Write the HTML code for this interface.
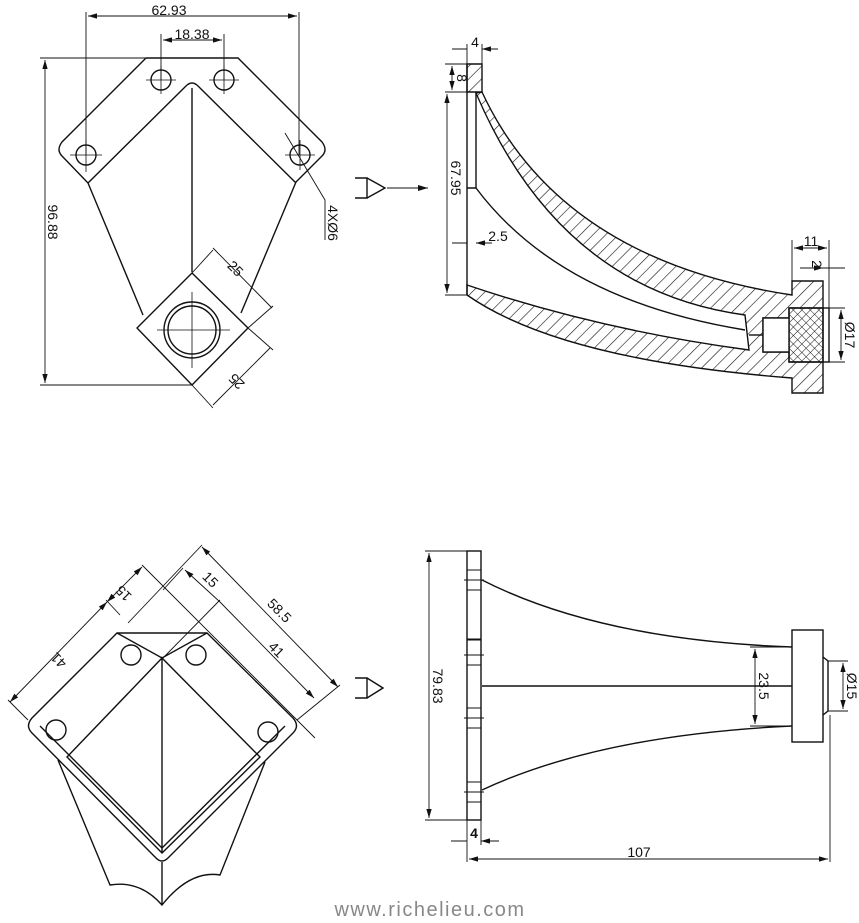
<!DOCTYPE html>
<html><head><meta charset="utf-8"><style>
html,body{margin:0;padding:0;background:#fff;width:859px;height:923px;overflow:hidden}
svg{display:block}
text{font-family:"Liberation Sans",sans-serif;font-size:14px;fill:#111;stroke:none}
</style></head><body>
<svg width="859" height="923" viewBox="0 0 859 923" xmlns="http://www.w3.org/2000/svg">
<defs>
<pattern id="h" width="9" height="9" patternUnits="userSpaceOnUse" patternTransform="rotate(45)"><line x1="0" y1="0" x2="0" y2="9" stroke="#111" stroke-width="1.2"/></pattern>
<pattern id="x" width="6" height="6" patternUnits="userSpaceOnUse" patternTransform="rotate(45)"><path d="M0 0V6M0 0H6" stroke="#111" stroke-width="1"/></pattern>
<marker id="a" viewBox="0 0 10 6" refX="10" refY="3" markerWidth="10" markerHeight="6" orient="auto-start-reverse"><path d="M0 0L10 3L0 6z" fill="#111" stroke="none"/></marker>
</defs>
<g fill="none" stroke="#111" stroke-width="1.4">
<!-- TOP LEFT VIEW -->
<path d="M146 58H238L322 142Q328 150 322 156L296 182L241 313"/>
<path d="M146 58L62 142Q56 150 62 156L88 183L143 315"/>
<path d="M88 183L186 86Q192 80 198 86L296 183"/>
<path d="M192 88V272"/>
<path d="M192 273L248 328L192 385L137 328Z" stroke-linejoin="round"/>
<circle cx="192" cy="330" r="28"/><circle cx="192" cy="330" r="24"/>
<circle cx="161" cy="80" r="10"/><circle cx="224" cy="80" r="10"/><circle cx="86" cy="155" r="10"/><circle cx="300" cy="155" r="10"/>
<g stroke-width="0.8"><path d="M157 330H230M192 292V368M146 80H176M161 66V94M209 80H239M224 66V94M70 155H102M86 140V172M285 155H315M300 140V170"/></g>
<g stroke-width="0.9">
<path d="M86 12V155M299 12V155"/>
<path d="M88 16H297" marker-start="url(#a)" marker-end="url(#a)"/>
<path d="M161 34V80M224 34V80"/><path d="M163 40H222" marker-start="url(#a)" marker-end="url(#a)"/>
<path d="M40 58H146M40 385H192"/><path d="M45 60V383" marker-start="url(#a)" marker-end="url(#a)"/>
<path d="M192 273L213 250M248 328L273 306M248 328L273 350M192 385L213 408"/>
<path d="M213 248L272 308" /><path d="M270 348L213 405"/>
<path d="M285 133L325 200V240"/>
</g>
<text x="169" y="15" text-anchor="middle">62.93</text>
<text x="192" y="39" text-anchor="middle" font-size="13">18.38</text>
<text transform="translate(48 222) rotate(90)" text-anchor="middle">96.88</text>
<text transform="translate(232 272) rotate(45)" text-anchor="middle" font-size="13">25</text>
<text transform="translate(240 378) rotate(-135)" text-anchor="middle" font-size="13">25</text>
<text transform="translate(328 223) rotate(90)" text-anchor="middle" font-size="13">4XØ6</text>
<path d="M355 178H367V198H355M367 178L385 188L367 198"/>
<path d="M387 188H428" stroke-width="1" marker-end="url(#a)"/>

<!-- TOP RIGHT SECTION -->
<path d="M467 64H482V92L476 92H467Z" fill="url(#h)"/>
<path d="M467 64V295M476 92V188M467 188H476"/>
<path d="M482 92Q560 260 792 295L792 281H823V308H789V318H763V352H789V362H823V393H792V378Q560 360 467 295V285Q600 330 749 350L745 315Q560 290 476 93Z" fill="url(#h)"/>
<path d="M476 188Q560 300 745 330"/>
<rect x="789" y="308" width="34" height="54" fill="url(#x)"/>
<rect x="823" y="308" width="6" height="54"/>
<rect x="763" y="318" width="26" height="34" fill="#fff"/>
<path d="M749 335H763"/>
<g stroke-width="0.9">
<path d="M467 44V64M482 44V64M452 49H467M482 49H498" />
<path d="M460 49H467M489 49H482" marker-end="url(#a)"/>
<path d="M445 64H467M445 92H467M445 295H467"/>
<path d="M452 66V90" marker-start="url(#a)" marker-end="url(#a)"/>
<path d="M447 94V293" marker-start="url(#a)" marker-end="url(#a)"/>
<path d="M452 243H467M476 243H492" /><path d="M476 243H490" marker-start="url(#a)"/>
<path d="M792 240V281M829 240V308"/><path d="M794 248H827" marker-start="url(#a)" marker-end="url(#a)"/>
<path d="M823 268H845"/><path d="M800 268H823" marker-end="url(#a)"/>
<path d="M829 308H845M829 362H845"/><path d="M841 310V360" marker-start="url(#a)" marker-end="url(#a)"/>
</g>
<text x="475" y="47" text-anchor="middle" font-size="13">4</text>
<text transform="translate(457 78) rotate(90)" text-anchor="middle" font-size="13">8</text>
<text transform="translate(451 178) rotate(90)" text-anchor="middle">67.95</text>
<text x="498" y="241" text-anchor="middle" font-size="13">2.5</text>
<text x="811" y="246" text-anchor="middle" font-size="13">11</text>
<text transform="translate(812 264) rotate(90)" text-anchor="middle" font-size="13">2</text>
<text transform="translate(845 335) rotate(90)" text-anchor="middle" font-size="13">Ø17</text>

<!-- BOTTOM LEFT VIEW -->
<path d="M117 633H207L293 718Q300 726 293 733L168 858Q162 864 156 858L32 733Q25 726 32 718Z"/>
<path d="M117 633L162 658L207 633M162 658L67 757L162 853L260 757L162 658V853"/>
<path d="M40 726L162 848L285 726"/>
<path d="M58 760L110 885Q140 880 162 905Q190 870 220 875L265 762M162 862V905"/>
<circle cx="131" cy="655" r="10"/><circle cx="196" cy="655" r="10"/><circle cx="56" cy="730" r="10"/><circle cx="268" cy="732" r="10"/>
<g stroke-width="0.9">
<path d="M28 720L8 700M128 623L202 545M142 565L315 738M183 568L163 590M220 600L163 658"/>
<path d="M297 720L340 685M106 600L120 615"/>
<path d="M10 702L107 602" marker-start="url(#a)" marker-end="url(#a)"/>
<path d="M107 602L142 567" marker-start="url(#a)" marker-end="url(#a)"/>
<path d="M185 570L220 602" marker-start="url(#a)"/>
<path d="M220 602L314 698" marker-end="url(#a)"/>
<path d="M202 547L338 687" marker-start="url(#a)" marker-end="url(#a)"/>
</g>
<text transform="translate(62 657) rotate(-135)" text-anchor="middle" font-size="13">41</text>
<text transform="translate(127 590) rotate(-135)" text-anchor="middle" font-size="13">15</text>
<text transform="translate(207 583) rotate(45)" text-anchor="middle" font-size="13">15</text>
<text transform="translate(276 614) rotate(45)" text-anchor="middle" font-size="13">58.5</text>
<text transform="translate(273 653) rotate(45)" text-anchor="middle" font-size="13">41</text>
<path d="M355 678H367V698H355M367 678L383 688L367 698"/>

<!-- BOTTOM RIGHT VIEW -->
<rect x="467" y="551" width="14" height="269"/>
<g stroke-width="1"><path d="M464 580H484M467 570H481M467 590H481M464 655H484M467 640H481M467 665H481M464 718H484M467 708H481M467 728H481M464 792H484M467 782H481M467 802H481M467 639H481"/></g>
<path d="M482 580Q600 640 792 647M482 790Q600 735 792 726M482 686H792"/>
<rect x="792" y="630" width="31" height="112"/>
<path d="M823 657L828 661V711L823 715"/>
<g stroke-width="0.9">
<path d="M425 551H467M425 820H467"/><path d="M429 553V818" marker-start="url(#a)" marker-end="url(#a)"/>
<path d="M750 647H792M750 726H792"/><path d="M755 649V724" marker-start="url(#a)" marker-end="url(#a)"/>
<path d="M828 661H848M828 711H848"/><path d="M843 663V709" marker-start="url(#a)" marker-end="url(#a)"/>
<path d="M467 820V862M481 820V845M451 841H467M481 841H499"/>
<path d="M459 841H467M489 841H481" marker-end="url(#a)"/>
<path d="M830 715V862"/><path d="M469 859H828" marker-start="url(#a)" marker-end="url(#a)"/>
</g>
<text transform="translate(433 686) rotate(90)" text-anchor="middle">79.83</text>
<text transform="translate(759 686) rotate(90)" text-anchor="middle" font-size="13">23.5</text>
<text transform="translate(847 686) rotate(90)" text-anchor="middle" font-size="13">Ø15</text>
<text x="474" y="838" text-anchor="middle" font-size="11" font-weight="bold">4</text>
<text x="639" y="857" text-anchor="middle">107</text>
</g>
<text x="430" y="916" text-anchor="middle" style="font-size:20px;fill:#888;letter-spacing:1.5px">www.richelieu.com</text>
</svg>
</body></html>
